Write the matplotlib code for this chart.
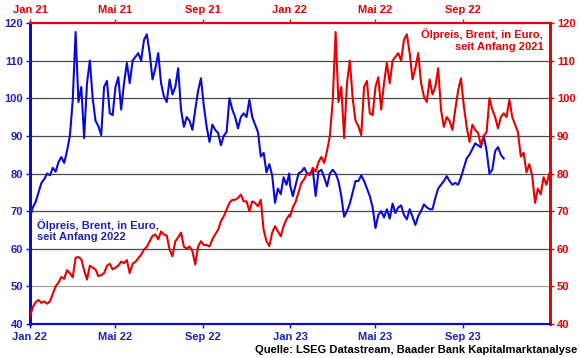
import numpy as np
import pandas as pd
import matplotlib.pyplot as plt
import matplotlib.dates as mdates

plt.rcParams['font.family'] = ['Liberation Sans', 'DejaVu Sans']
plt.rcParams['font.weight'] = 'bold'

brent_2021 = [42, 44.5, 45.8, 46.4, 45.6, 46, 45.4, 46, 48, 50,
              51, 52.5, 52, 54.3, 53.5, 52.4, 57.6, 57.8, 57.2, 54.3,
              51.8, 55.5, 55, 54.5, 52.7, 53, 53.5, 55.5, 56, 54.5,
              55, 55.5, 56.6, 56.2, 57, 53.5, 56, 56.5, 57.5, 58.4,
              59.8, 60.5, 62, 63.4, 63.8, 62.5, 64.6, 63.8, 63.5, 59.7,
              58, 62, 63, 64.3, 60.6, 60, 60.6, 59.4, 55.8, 60.6,
              62, 61, 61, 60.6, 62.5, 63.8, 65, 67.3, 68.6, 70.4,
              72.2, 73, 73, 73.5, 74.4, 72.6, 72.6, 70, 72.6, 72.2,
              71.3, 73, 65, 62, 60.7, 64.3, 66, 64.6, 63.3, 66,
              67.8, 69]
brent_2022 = [68.5, 71, 72.5, 75, 77.5, 78.5, 80, 79.5, 81.5, 80.5,
              83, 84.4, 82.8, 86, 90, 99.5, 117.6, 99, 103, 89.4,
              104, 110, 100, 94, 92.6, 90.2, 103, 104.6, 96, 95.5,
              103, 105.6, 97, 104, 109.4, 104, 110, 111, 112, 110,
              115.5, 117, 112, 105, 108, 112, 104, 100.5, 99, 105,
              101, 103, 108, 97, 92.4, 95, 94, 91.6, 97, 102,
              105.3, 98, 92.4, 88.4, 93, 91.6, 90.8, 87.5, 90, 91,
              100, 97, 95, 92, 95, 96, 95, 99.6, 95, 93,
              91, 84.5, 85.5, 80.3, 82.5, 79.5, 72.2, 76, 74.5, 79,
              77, 80]
brent_2023 = [77, 74, 77, 80, 80.5, 81.5, 80, 80, 81, 74,
              80.5, 81, 79, 76.6, 80, 81, 80, 78, 74, 68.5,
              70, 72, 75, 78, 78, 79.5, 78, 76, 74, 71,
              65.5, 69, 70, 68.3, 70.5, 68, 72, 69.5, 71, 71.5,
              69, 67.8, 70.5, 68.5, 66.3, 68.7, 70, 71.8, 71, 70.5,
              70.5, 73.5, 76, 77, 78, 79.3, 78, 77, 77.5, 77,
              79, 81.5, 84, 85, 86.5, 88, 87.5, 87, 90, 86,
              80, 81, 86, 87, 85, 84]

bottom_labels = ['Jan 22', 'Mai 22', 'Sep 22', 'Jan 23', 'Mai 23', 'Sep 23']
top_labels = ['Jan 21', 'Mai 21', 'Sep 21', 'Jan 22', 'Mai 22', 'Sep 22']
tick_dates = pd.to_datetime(['2022-01-01', '2022-05-01', '2022-09-01',
                             '2023-01-01', '2023-05-01', '2023-09-01'])

d21 = pd.date_range('2021-01-01', periods=len(brent_2021), freq='4D')
d22 = pd.date_range('2022-01-01', periods=len(brent_2022), freq='4D')
d23 = pd.date_range('2023-01-01', periods=len(brent_2023), freq='4D')

# blue: since 2022 (bottom/left), red: since 2021 shifted by one year (top/right)
blue_x = d22.append(d23)
blue_y = brent_2022 + brent_2023
red_x = d21.append(d22) + pd.DateOffset(years=1)
red_y = brent_2021 + brent_2022

BLUE = '#0a0ad8'
BLUE_TXT = '#2020c0'
RED = '#e60000'

fig = plt.figure(figsize=(5.8, 3.58), dpi=100)
ax = fig.add_axes([30/580, 1-324/358, 520/580, 301/358])
ax2 = ax.twinx()

for v in range(50, 120, 10):
    ax.axhline(v, color='#a0a0a0' if v == 50 else '#4a4a4a', lw=0.9, zorder=0)

ax.plot(blue_x, blue_y, color=BLUE, lw=1.5, zorder=3)
ax2.plot(red_x, red_y, color=RED, lw=1.5, zorder=3)

xmin, xmax = pd.Timestamp('2022-01-01'), pd.Timestamp('2024-01-01')
ax.set_xlim(xmin, xmax)
ax.set_ylim(40, 120)
ax2.set_ylim(40, 120)

ax.set_yticks(range(40, 121, 10))
ax2.set_yticks(range(40, 121, 10))
ax.set_xticks(tick_dates)
ax.set_xticklabels(bottom_labels)

top = ax.secondary_xaxis('top')
top.set_xticks(tick_dates)
top.set_xticklabels(top_labels)

ax.tick_params(axis='y', colors=BLUE, labelcolor=BLUE_TXT, labelsize=8, length=3, width=1, pad=2)
ax.tick_params(axis='x', colors=BLUE, labelcolor=BLUE_TXT, labelsize=8, length=3, width=1, pad=3)
ax2.tick_params(axis='y', colors=RED, labelcolor=RED, labelsize=8, length=3, width=1, pad=2)
top.tick_params(axis='x', colors=RED, labelcolor=RED, labelsize=8, length=3, width=1, pad=3)

for a in (ax, ax2):
    a.spines['left'].set_color(BLUE)
    a.spines['left'].set_linewidth(2)
    a.spines['bottom'].set_color(BLUE)
    a.spines['bottom'].set_linewidth(1.5)
    a.spines['right'].set_color(RED)
    a.spines['right'].set_linewidth(2)
    a.spines['top'].set_color(RED)
    a.spines['top'].set_linewidth(1.5)
top.spines['top'].set_color(RED)
top.spines['top'].set_linewidth(1.5)

ax.text(0.013, 0.31, 'Ölpreis, Brent, in Euro,\nseit Anfang 2022', transform=ax.transAxes,
        color=BLUE_TXT, fontsize=8, fontweight='bold', ha='left', va='center', zorder=5)
ax2.text(0.987, 0.943, 'Ölpreis, Brent, in Euro,\nseit Anfang 2021', transform=ax2.transAxes,
         color=RED, fontsize=8, fontweight='bold', ha='right', va='center',
         multialignment='right', zorder=5)

fig.text(577/580, 1-350/358, 'Quelle: LSEG Datastream, Baader Bank Kapitalmarktanalyse',
         color='black', fontsize=8, fontweight='bold', ha='right', va='center')

fig.savefig('out.png', dpi=100)
